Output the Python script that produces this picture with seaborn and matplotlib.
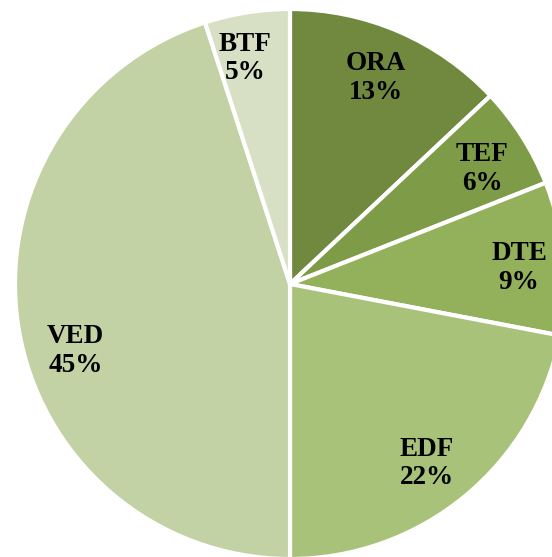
import numpy as np
import matplotlib
matplotlib.use("Agg")
import matplotlib.pyplot as plt
import seaborn as sns

# data (clockwise from 12 o'clock)
names = ["ORA", "TEF", "DTE", "EDF", "VED", "BTF"]
shares = [13, 6, 9, 22, 45, 5]
colors = ["#71893f", "#7e9b47", "#93b05a", "#a9c27a", "#c2d2a4", "#d7e0c4"]

# small nudges of the label spots (degrees / fraction of radius), like the original
label_turn = [0.7, -1.5, -1.4, -2.3, 8.4, 2.3]
label_dist = [0.812, 0.814, 0.835, 0.822, 0.816, 0.837]

sns.set_theme(style="white")
plt.rcParams["font.family"] = ["Liberation Serif", "DejaVu Serif"]

fig = plt.figure(figsize=(5.52, 5.57), dpi=100)
# square axes, pie runs off the right and bottom edges
ax = fig.add_axes([15 / 552, -2 / 557, 550 / 552, 550 / 557])

wedges, _ = ax.pie(
    shares,
    colors=colors,
    startangle=90,
    counterclock=False,
    radius=1,
    wedgeprops=dict(edgecolor="white", linewidth=3),
)

for w, n, v, turn, d in zip(wedges, names, shares, label_turn, label_dist):
    ang = np.deg2rad((w.theta1 + w.theta2) / 2 + turn)
    ax.text(d * np.cos(ang), d * np.sin(ang), f"{n}\n{v}%",
            ha="center", va="center", fontsize=19.5, fontweight="bold",
            color="black", linespacing=1.17)

ax.set_xlim(-1, 1)
ax.set_ylim(-1, 1)
ax.set_aspect("equal")
ax.axis("off")

fig.savefig("out.png", dpi=100)
